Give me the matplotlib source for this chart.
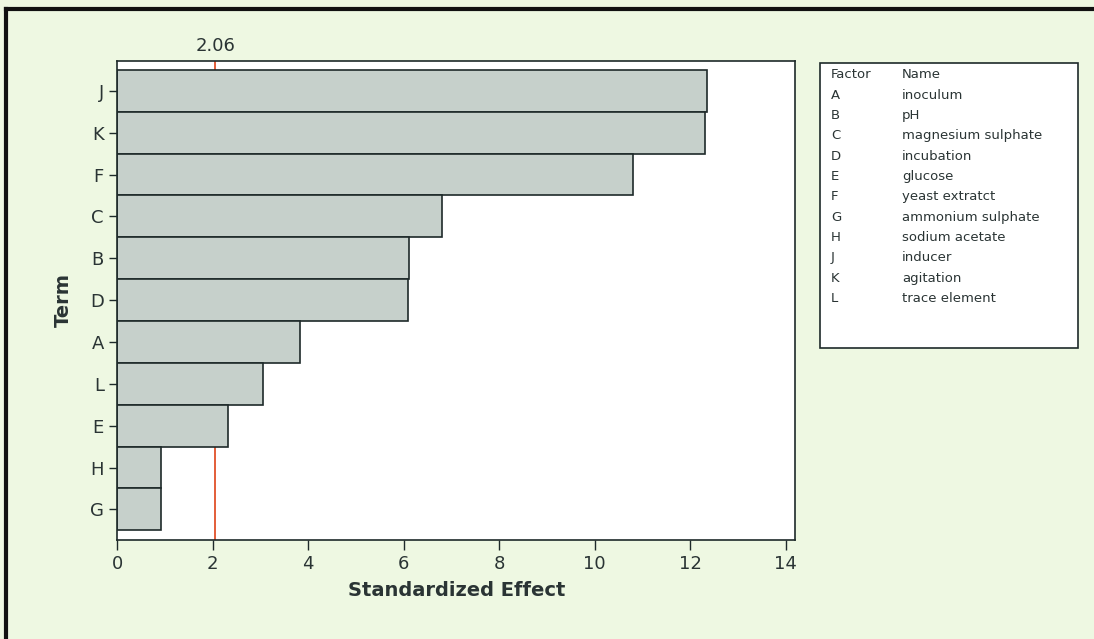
import matplotlib
matplotlib.use("Agg")
import matplotlib.pyplot as plt
from matplotlib.lines import Line2D

# Pareto chart of standardized effects (top -> bottom)
terms = ["J", "K", "F", "C", "B", "D", "A", "L", "E", "H", "G"]
effects = [12.35, 12.3, 10.8, 6.8, 6.12, 6.1, 3.84, 3.06, 2.33, 0.92, 0.92]
ref_value = 2.06

factor_codes = ["A", "B", "C", "D", "E", "F", "G", "H", "J", "K", "L"]
factor_names = ["inoculum", "pH", "magnesium sulphate", "incubation", "glucose",
                "yeast extratct", "ammonium sulphate", "sodium acetate",
                "inducer", "agitation", "trace element"]

BG = "#eef8e2"
BAR = "#c6d0cb"
EDGE = "#1e2a2a"
TXT = "#2a3434"

plt.rcParams["font.family"] = ["DejaVu Sans"]

fig = plt.figure(figsize=(10.94, 6.39), dpi=100)
fig.patch.set_facecolor(BG)

ax = fig.add_axes([0.107, 0.155, 0.620, 0.750])
ax.set_facecolor("white")

n = len(terms)
ypos = list(range(n))[::-1]
ax.barh(ypos, effects, height=1.0, color=BAR, edgecolor=EDGE, linewidth=1.2, zorder=2)
ax.axvline(ref_value, color="#e0502a", linewidth=1.3, zorder=1)

ax.set_xlim(0, 14.2)
ax.set_ylim(-0.73, n - 0.28)
ax.set_xticks(range(0, 15, 2))
ax.set_yticks(ypos)
ax.set_yticklabels(terms)
ax.tick_params(axis="both", labelsize=13, colors=EDGE, labelcolor=TXT, length=6, width=1)
ax.tick_params(axis="x", length=7)
for s in ax.spines.values():
    s.set_linewidth(1.2)
    s.set_color(EDGE)

ax.set_xlabel("Standardized Effect", fontsize=14, fontweight="bold", color=TXT, labelpad=6)
ax.set_ylabel("Term", fontsize=14, fontweight="bold", color=TXT, labelpad=12)

# reference value label above the axes
ax.text(ref_value, 1.012, f"{ref_value:.2f}", transform=ax.get_xaxis_transform(),
        ha="center", va="bottom", fontsize=13, color=TXT)

# factor/name key box
kx0, ky0, kx1, ky1 = 820 / 1094, 1 - 348 / 639, 1078 / 1094, 1 - 63 / 639
key = plt.Rectangle((kx0, ky0), kx1 - kx0, ky1 - ky0, transform=fig.transFigure,
                    facecolor="white", edgecolor=EDGE, linewidth=1.2)
fig.add_artist(key)
line_h = 20.3 / 639
col1 = 831 / 1094
col2 = 902 / 1094
ytop = 1 - 75 / 639
fig.text(col1, ytop, "Factor", fontsize=9.5, color=TXT, va="center")
fig.text(col2, ytop, "Name", fontsize=9.5, color=TXT, va="center")
for i, (c, nm) in enumerate(zip(factor_codes, factor_names), start=1):
    fig.text(col1, ytop - i * line_h, c, fontsize=9.5, color=TXT, va="center")
    fig.text(col2, ytop - i * line_h, nm, fontsize=9.5, color=TXT, va="center")

# outer frame (left and top edges)
fig.add_artist(Line2D([6 / 1094, 6 / 1094], [0, 1 - 9 / 639], transform=fig.transFigure,
                      color="#111111", linewidth=3))
fig.add_artist(Line2D([6 / 1094, 1], [1 - 9 / 639, 1 - 9 / 639], transform=fig.transFigure,
                      color="#111111", linewidth=3))

fig.savefig("out.png", dpi=100, facecolor=BG)
